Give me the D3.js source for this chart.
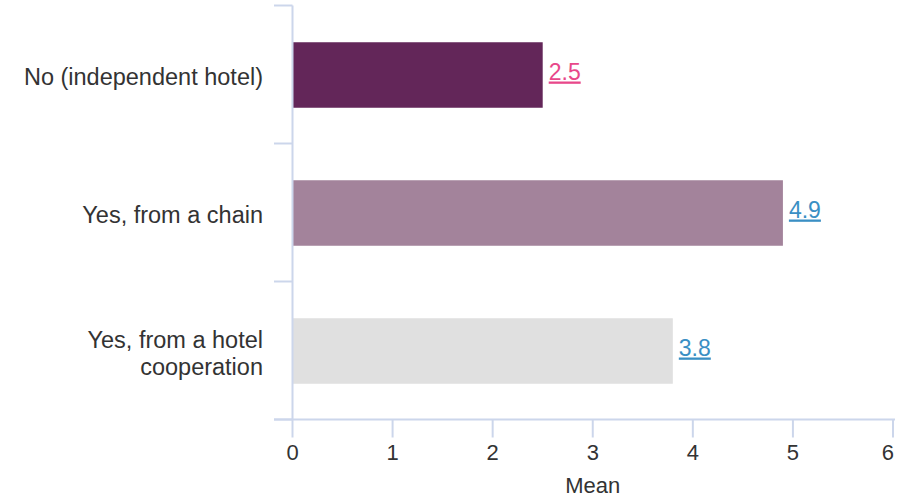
<!DOCTYPE html>
<html>
<head>
<meta charset="utf-8">
<script src="https://cdn.jsdelivr.net/npm/d3@7"></script>
<style>
  html, body { margin: 0; padding: 0; background: #fff; }
  svg { display: block; font-family: "Liberation Sans", Arial, sans-serif; }
</style>
</head>
<body>
<svg id="chart" width="903" height="499"></svg>
<script>
// Hotel affiliation vs. mean score
const categories = [
  ["No (independent hotel)"],
  ["Yes, from a chain"],
  ["Yes, from a hotel", "cooperation"]
];
const means = [2.5, 4.9, 3.8];
const barColors = ["#632659", "#a3839b", "#e0e0e0"];
const labelColors = ["#e8488a", "#3a8fc4", "#3a8fc4"];
const xTicks = [0, 1, 2, 3, 4, 5, 6];
const xTitle = "Mean";

const svg = d3.select("#chart");
const axisColor = "#ccd6eb";
const textColor = "#333333";

const x = d3.scaleLinear().domain([0, 6]).range([292.5, 893]);
const y = d3.scaleBand().domain(d3.range(categories.length)).range([5.5, 419.5]).padding(0);
const barH = 65.5;
const mid = i => y(i) + y.bandwidth() / 2;

// bars
svg.append("g").selectAll("rect")
  .data(means)
  .join("rect")
  .attr("x", x(0))
  .attr("y", (d, i) => mid(i) + 0.5 - barH / 2)
  .attr("width", d => x(d) - x(0))
  .attr("height", barH)
  .attr("fill", (d, i) => barColors[i]);

// y axis: line with band-boundary ticks
const yAxis = svg.append("g");
yAxis.append("line")
  .attr("x1", x(0)).attr("x2", x(0))
  .attr("y1", y.range()[0]).attr("y2", y.range()[1])
  .attr("stroke", axisColor).attr("stroke-width", 2);
const bounds = d3.range(categories.length + 1).map(i => y.range()[0] + i * y.step());
yAxis.selectAll("line.tick")
  .data(bounds)
  .join("line")
  .attr("class", "tick")
  .attr("x1", 274).attr("x2", x(0))
  .attr("y1", d => d).attr("y2", d => d)
  .attr("stroke", axisColor).attr("stroke-width", 2);

// category labels
const catG = svg.append("g").selectAll("text")
  .data(categories)
  .join("text")
  .attr("text-anchor", "end")
  .attr("fill", textColor)
  .style("font-size", "23.5px")
  .attr("transform", (d, i) => `translate(263, ${mid(i)})`);
catG.selectAll("tspan")
  .data(d => d.map((t, k) => ({ t, k, n: d.length })))
  .join("tspan")
  .attr("x", 0)
  .attr("y", d => (d.k - (d.n - 1) / 2) * 27 + 10.5)
  .text(d => d.t);

// x axis
const xAxis = svg.append("g").attr("transform", "translate(0,419.5)");
xAxis.append("line")
  .attr("x1", 274).attr("x2", 895)
  .attr("stroke", axisColor).attr("stroke-width", 2);
xAxis.selectAll("line.tick")
  .data(xTicks)
  .join("line")
  .attr("class", "tick")
  .attr("x1", d => Math.min(x(d), 894)).attr("x2", d => Math.min(x(d), 894))
  .attr("y1", 0).attr("y2", 18)
  .attr("stroke", axisColor).attr("stroke-width", 2);
xAxis.selectAll("text")
  .data(xTicks)
  .join("text")
  .attr("x", (d, i) => i === xTicks.length - 1 ? 894 : x(d))
  .attr("y", 40)
  .attr("text-anchor", (d, i) => i === xTicks.length - 1 ? "end" : "middle")
  .attr("fill", textColor)
  .style("font-size", "22px")
  .text(d => d);

svg.append("text")
  .attr("x", (x(0) + x(6)) / 2)
  .attr("y", 493)
  .attr("text-anchor", "middle")
  .attr("fill", textColor)
  .style("font-size", "22px")
  .text(xTitle);

// value labels
svg.append("g").selectAll("text")
  .data(means)
  .join("text")
  .attr("x", d => x(d) + 6)
  .attr("y", (d, i) => mid(i) + 5)
  .attr("fill", (d, i) => labelColors[i])
  .style("font-size", "23px")
  .style("text-decoration", "underline")
  .text(d => d3.format(".1f")(d));
</script>
</body>
</html>
